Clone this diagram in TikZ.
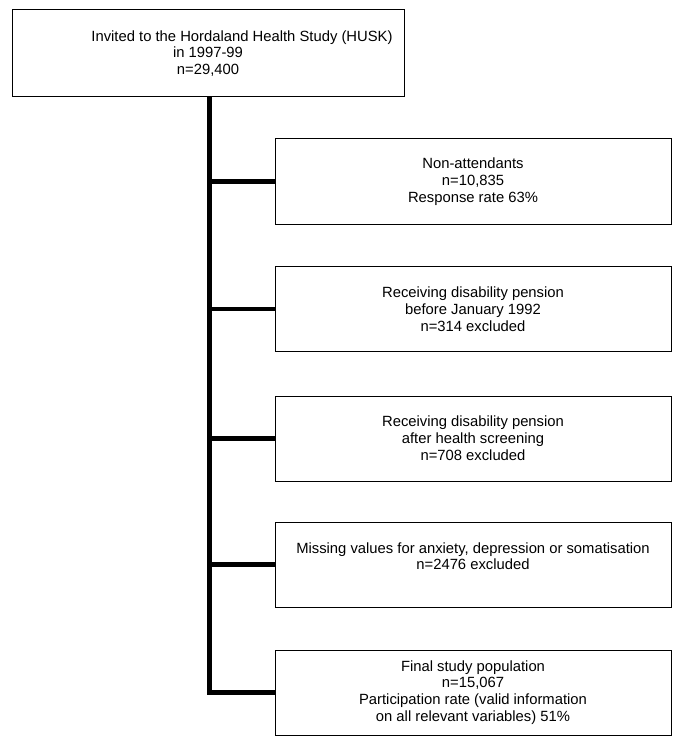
\documentclass[tikz,border=0pt]{standalone}
\usepackage{fontspec}
\setmainfont{Liberation Sans}
\begin{document}
\begin{tikzpicture}[x=1pt,y=-1pt]
	\tikzstyle{every node}=[font=\fontsize{14.8}{16.8}\selectfont]
	\tikzstyle{flowbox}=[draw=black, line width=1pt, fill=white, align=center, inner sep=0pt]
	\tikzstyle{sidebox}=[flowbox, minimum width=396pt, minimum height=85pt]
	\tikzstyle{spine}=[line width=4.6pt]
	\useasboundingbox (0,0) rectangle (685,754);
	
	\node [flowbox, minimum width=392pt, minimum height=87pt] (invited) at (208,53.5) {\hspace*{68pt}Invited to the Hordaland Health Study (HUSK)\\in 1997-99\\n=29,400};
	
	\node [sidebox] (nonatt) at (473,181.5) {Non-attendants\\n=10,835\\Response rate 63\%};
	\node [sidebox] (before) at (473,309) {Receiving disability pension\\before January 1992\\n=314 excluded};
	\node [sidebox] (after) at (473,438.5) {Receiving disability pension\\after health screening\\n=708 excluded};
	\node [sidebox] (missing) at (473,564.5) {Missing values for anxiety, depression or somatisation\\n=2476 excluded\\\mbox{}};
	\node [sidebox] (final) at (473,692.5) {Final study population\\n=15,067\\Participation rate (valid information\\on all relevant variables) 51\%};
	
	\coordinate (top) at ([xshift=1.5pt]invited.south);
	\draw [spine] (top) |- (final.west);
	\draw [spine] (nonatt.west) -- (nonatt.west -| top);
	\draw [spine] (before.west) -- (before.west -| top);
	\draw [spine] (after.west) -- (after.west -| top);
	\draw [spine] (missing.west) -- (missing.west -| top);
	
	\end{tikzpicture}
\end{document}
